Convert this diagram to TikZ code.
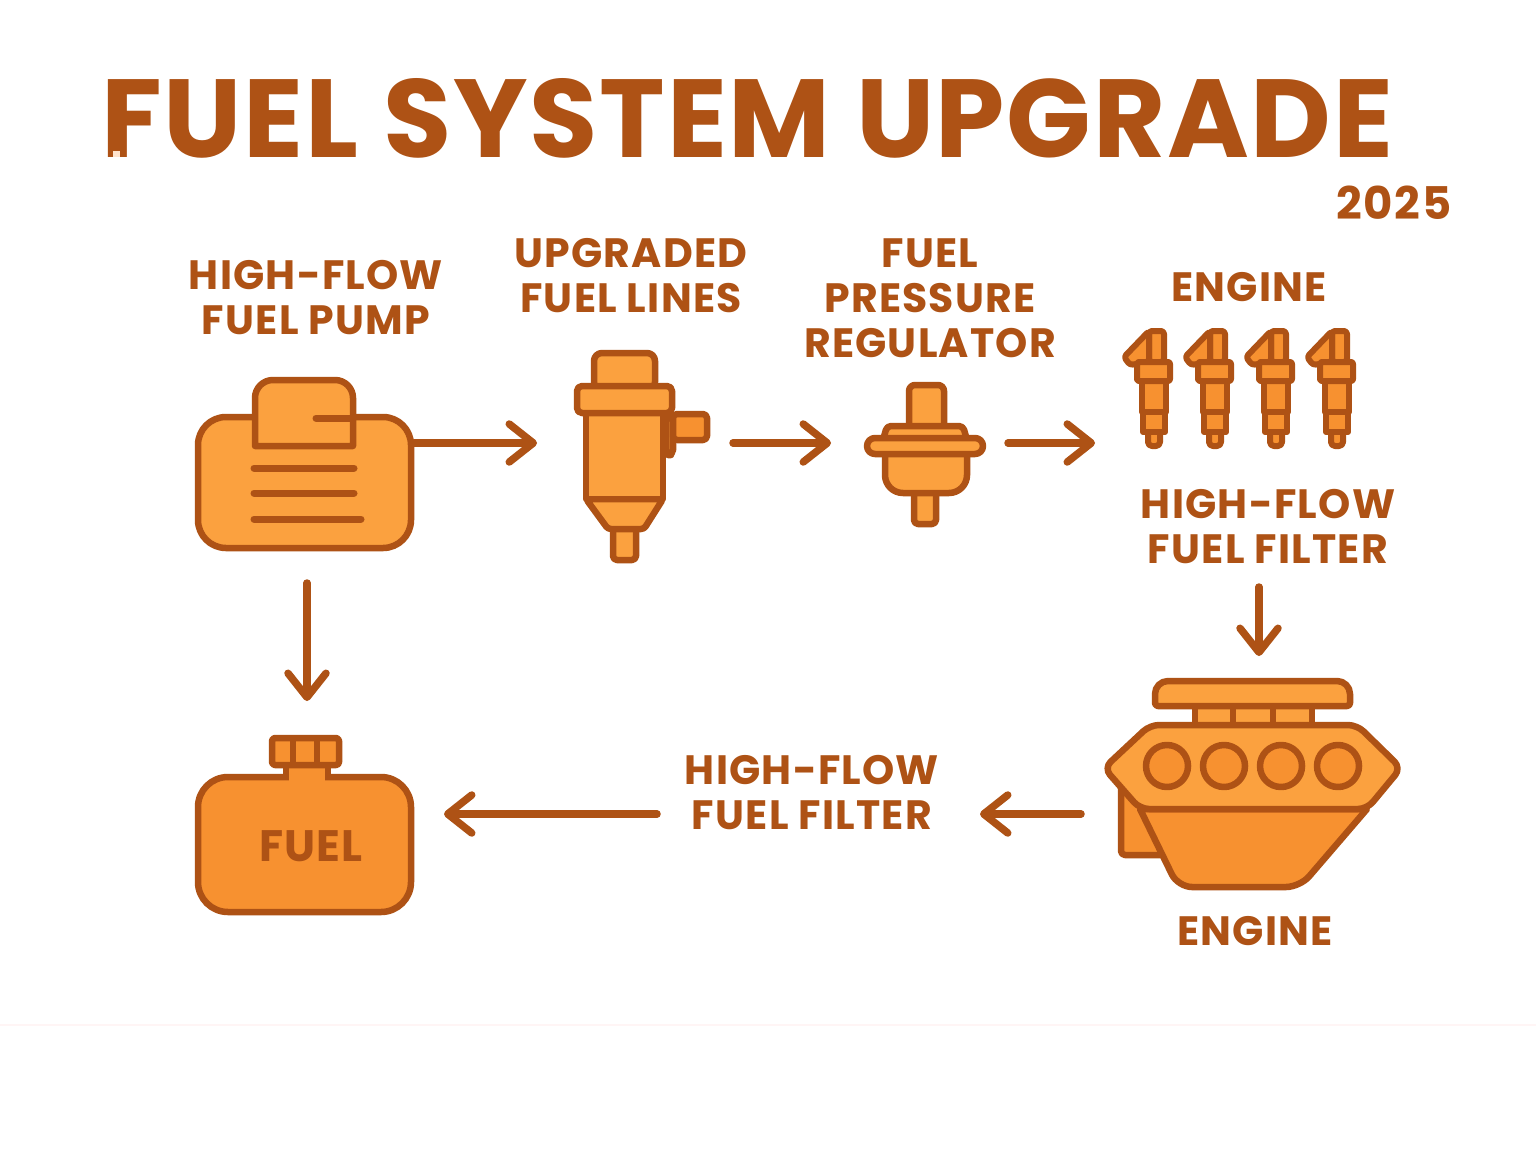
\documentclass[tikz,border=0pt]{standalone}
\usepackage{fontspec}
\setmainfont{Poppins}
\usepackage{tikz}
\usetikzlibrary{positioning, arrows.meta}
\definecolor{fcline}{HTML}{AE5215}
\definecolor{fcfill}{HTML}{FBA13F}
\definecolor{fcdeep}{HTML}{F79130}
\tikzset{
  lbl/.style={font=\bfseries\fontsize{41}{45}\selectfont\addfontfeature{LetterSpace=3}, text=fcline, align=center, inner sep=0pt},
  part/.style={draw=fcline, fill=fcfill, line width=6.5pt, line join=round},
  deep/.style={part, fill=fcdeep},
  thin/.style={part, line width=6pt, fill=fcdeep},
  rib/.style={draw=fcline, line width=7pt, line cap=round},
  flow/.style={-{Straight Barb[length=24pt,width=38pt,round]}, draw=fcline, line width=7.5pt, line cap=round},
}
\begin{document}
\begin{tikzpicture}[x=1pt,y=-1pt]
  \useasboundingbox (0,0) rectangle (1536,1154);
  \fill[white] (0,0) rectangle (1536,1154);
  \draw[draw=red!4, line width=1.5pt] (0,1025) -- (1536,1025);

  \node[lbl, font=\bfseries\fontsize{111}{111}\selectfont\addfontfeature{LetterSpace=1.55}, anchor=base west](title) at (101,157){FUEL SYSTEM UPGRADE};
  \fill[red!10!orange!20] (113,151) rectangle (120,157);
  \node[lbl, font=\bfseries\fontsize{45}{45}\selectfont\addfontfeature{LetterSpace=3.5}](year) at (1394,203){2025};

  \node[lbl](n1) at (316,298){HIGH-FLOW\\FUEL PUMP};
  \node[lbl](n2) at (631,276){UPGRADED\\FUEL LINES};
  \node[lbl](n3) at (930,298){FUEL\\PRESSURE\\REGULATOR};
  \node[lbl](n4) at (1249,287){ENGINE};
  \node[lbl](n5) at (1268,527){HIGH-FLOW\\FUEL FILTER};
  \node[lbl](n6) at (812,793){HIGH-FLOW\\FUEL FILTER};
  \node[lbl](n7) at (1255,931){ENGINE};

  % pump
  \node[part, rounded corners=28pt, minimum width=213pt, minimum height=131pt, inner sep=0pt](pump) at (304.5,482.5){};
  \draw[part] (255,446) [rounded corners=18pt] -- (255,380) -- (353,380) [sharp corners] -- (353,446) -- cycle;
  \draw[rib] (316,418) -- (353,418);
  \draw[rib] (254,468) -- (354,468);
  \draw[rib] (254,493) -- (354,493);
  \draw[rib] (254,519) -- (361,519);

  % fuel lines
  \draw[part, rounded corners=5pt] (666,416) rectangle (673,455);
  \draw[deep, rounded corners=4pt] (673,414) rectangle (707,440);
  \draw[part, rounded corners=4pt] (613,526) rectangle (636,560);
  \draw[part, rounded corners=3pt] (586,499) -- (608,529) -- (644,529) -- (663,499) -- cycle;
  \draw[part] (586,413) rectangle (663,499);
  \draw[part, rounded corners=8pt] (594,390) |- (655,353) -- (655,390) -- cycle;
  \node[part, rounded corners=5pt, minimum width=95pt, minimum height=27pt, inner sep=0pt](lines) at (624.5,399.5){};

  % regulator
  \draw[part, rounded corners=4pt] (914,490) rectangle (936,524);
  \draw[part] (885,446) [rounded corners=18pt] -- (885,493) -- (967,493) [sharp corners] -- (967,446) -- cycle;
  \draw[part, rounded corners=6pt] (909,430) |- (944,385) -- (944,430) -- cycle;
  \draw[part, rounded corners=4pt] (883,440) -- (887,426) -- (963,426) -- (967,440) -- cycle;
  \node[part, rounded corners=8pt, minimum width=116pt, minimum height=16pt, inner sep=0pt](reg) at (925,446){};

  % injectors
  \foreach \x in {1154,1215,1276,1337}{
    \begin{scope}[shift={(\x,0)}]
      \draw[thin, rounded corners=4pt] (-6,430) -- (-6,446) -- (6,446) -- (6,430) -- cycle;
      \draw[thin] (-11,412) rectangle (11,432);
      \draw[thin] (-12,380) rectangle (12,412);
      \draw[thin, rounded corners=3pt] (-5,362) -- (-5,331) -- (10,331) -- (10,362) -- cycle;
      \draw[thin, rounded corners=3pt] (-5,331) -- (-30,357) -- (-24,365) -- (-5,362) -- cycle;
      \draw[thin, rounded corners=2pt] (-17,362) rectangle (16,381);
    \end{scope}
  }

  % engine
  \draw[deep] (1121,782) [rounded corners=4pt] -- (1121,855) -- (1170,855) [sharp corners] -- (1170,782) -- cycle;
  \draw[deep] (1140,809) [rounded corners=14pt] -- (1178,887) -- (1300,887) [sharp corners] -- (1367,809) -- cycle;
  \draw[part] (1195,706) rectangle (1233,726);
  \draw[part] (1233,706) rectangle (1273,726);
  \draw[part] (1273,706) rectangle (1312,726);
  \draw[part] (1155,706) [rounded corners=13pt] -- (1155,681) -- (1350,681) [rounded corners=3pt] -- (1350,706) -- cycle;
  \draw[part, rounded corners=9pt] (1104,768) -- (1150,725) -- (1357,725) -- (1401,768) -- (1367,809) -- (1140,809) -- cycle;
  \foreach \x in {1167,1224,1281,1338}{
    \draw[deep] (\x,766) circle[radius=21pt];
  }

  % tank
  \node[deep, rounded corners=30pt, minimum width=213pt, minimum height=135pt, inner sep=0pt](tank) at (304.5,844.5){};
  \node[font=\bfseries\fontsize{44}{44}\selectfont\addfontfeature{LetterSpace=3}, text=fcline, inner sep=0pt](word) at (311,846){FUEL};
  \draw[deep] (286,762) -- (286,779);
  \draw[deep] (328,762) -- (328,779);
  \fill[fcdeep] (289,765) rectangle (325,780.5);
  \draw[deep, rounded corners=3pt] (272,738) rectangle (339,765);
  \draw[deep] (293,738) -- (293,765);
  \draw[deep] (317,738) -- (317,765);

  \coordinate (a) at (537,443);
  \coordinate (b) at (733,443);
  \coordinate (c) at (831,443);
  \coordinate (d) at (1008,443);
  \coordinate (e) at (1095,443);
  \coordinate (f) at (1259,587);
  \coordinate (g) at (1259,656);
  \coordinate (h) at (1081,814);
  \coordinate (i) at (980,814);
  \coordinate (j) at (657,814);
  \coordinate (k) at (444,814);
  \coordinate (l) at (307,583);
  \coordinate (m) at (307,701);
  \draw[flow](pump.east|-a)--(a); \draw[flow](b)--(c); \draw[flow](d)--(e);
  \draw[flow](f)--(g); \draw[flow](h)--(i); \draw[flow](j)--(k); \draw[flow](l)--(m);
\end{tikzpicture}
\end{document}
